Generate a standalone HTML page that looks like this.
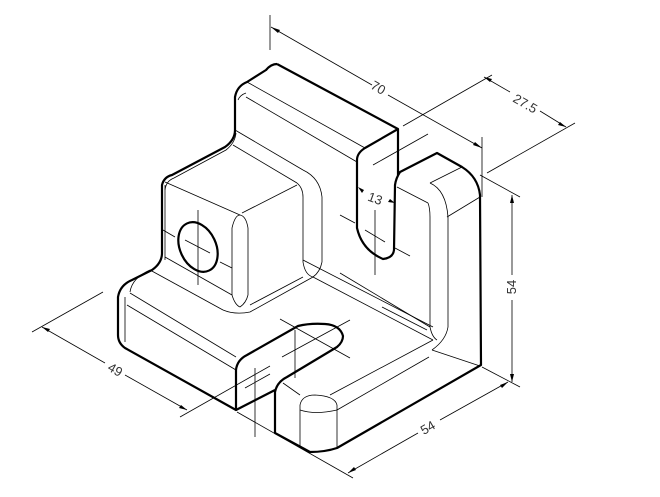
<!DOCTYPE html>
<html><head><meta charset="utf-8"><style>html,body{margin:0;padding:0;background:#fff}svg{display:block}</style></head>
<body>
<svg width="660" height="497" viewBox="0 0 660 497" xmlns="http://www.w3.org/2000/svg" font-family="Liberation Sans, sans-serif">
<g fill="none" stroke="#000" stroke-width="0.8">
<!-- dimensions -->
<line x1="270" y1="15" x2="270" y2="50"/>
<line x1="271" y1="27" x2="372" y2="85"/><line x1="388" y1="95" x2="482" y2="148"/>
<line x1="482" y1="137" x2="482" y2="197"/>
<line x1="403" y1="126" x2="492" y2="75"/>
<line x1="487" y1="173" x2="575" y2="123"/>
<line x1="484" y1="77" x2="510" y2="92"/><line x1="540" y1="111" x2="566" y2="127"/>
<line x1="373" y1="165" x2="428" y2="134"/>
<line x1="480" y1="175" x2="520" y2="197"/>
<line x1="512" y1="195" x2="512" y2="275"/><line x1="512" y1="300" x2="512" y2="382"/>
<line x1="482" y1="367" x2="520" y2="387"/>
<line x1="348" y1="473" x2="418" y2="433"/><line x1="440" y1="420" x2="508" y2="382"/>
<line x1="237" y1="412" x2="353" y2="478"/>
<line x1="32" y1="332" x2="103" y2="292"/>
<line x1="42" y1="327" x2="105" y2="363"/><line x1="125" y1="375" x2="187" y2="410"/>
<line x1="180" y1="417" x2="270" y2="366"/>
<!-- upright thin -->
<line x1="247" y1="82" x2="365" y2="148"/>
<line x1="246" y1="97" x2="357" y2="162"/>
<line x1="235" y1="130" x2="303" y2="170"/>
<line x1="233" y1="145" x2="297" y2="183"/>
<path d="M238 100 Q240 95 246 93"/>
<!-- cube -->
<path d="M165 190 Q166 181 174 178 L226 150 Q235 143 236 133"/>
<line x1="165" y1="182" x2="240" y2="215"/>
<line x1="242" y1="213" x2="297" y2="185"/>
<line x1="165" y1="185" x2="165" y2="260"/>
<line x1="232" y1="228" x2="232" y2="295"/><line x1="248" y1="228" x2="248" y2="295"/>
<path d="M232 228 Q235 215 240 215 Q246 216 248 228"/>
<line x1="303" y1="197" x2="303" y2="262"/><line x1="322" y1="197" x2="322" y2="262"/>
<path d="M303 170 Q320 178 322 197"/><path d="M297 183 Q303 188 303 197"/>
<path d="M303 262 Q305 275 313 277 M322 262 Q320 272 313 277"/>
<line x1="150" y1="270" x2="223" y2="310"/>
<line x1="165" y1="257" x2="232" y2="295"/>
<path d="M223 310 Q235 315 250 312 L313 277"/>
<path d="M232 295 Q235 305 240 307 M248 295 Q246 303 240 307"/>
<line x1="250" y1="305" x2="303" y2="277"/>
<!-- hole center -->
<line x1="198" y1="210" x2="198" y2="285"/><line x1="185" y1="240" x2="210" y2="253"/>
<line x1="163" y1="230" x2="175" y2="237"/><line x1="220" y1="262" x2="232" y2="268"/>
<!-- slot upright center -->
<line x1="375" y1="210" x2="375" y2="275"/><line x1="340" y1="215" x2="355" y2="223"/>
<line x1="365" y1="230" x2="385" y2="242"/><line x1="395" y1="248" x2="410" y2="256"/>
<!-- base top -->
<line x1="313" y1="277" x2="433" y2="340"/>
<line x1="303" y1="260" x2="433" y2="327"/>
<line x1="340" y1="273" x2="430" y2="327"/>
<line x1="382" y1="307" x2="427" y2="330"/>
<path d="M150 270 Q132 278 130 292"/>
<line x1="130" y1="293" x2="236" y2="357"/>
<line x1="127" y1="305" x2="236" y2="370"/>
<line x1="125" y1="297" x2="125" y2="342"/>
<!-- right block thin -->
<line x1="397" y1="187" x2="428" y2="203"/>
<line x1="430" y1="183" x2="462" y2="167"/>
<line x1="447" y1="217" x2="480" y2="197"/>
<line x1="430" y1="217" x2="430" y2="327"/><line x1="448" y1="217" x2="448" y2="327"/>
<path d="M428 203 Q430 208 430 217 M430 183 Q446 190 448 217"/>
<path d="M430 327 Q432 337 437 340 M448 327 Q446 340 432 350"/>
<line x1="432" y1="350" x2="480" y2="366"/>
<line x1="433" y1="340" x2="330" y2="395"/>
<line x1="429" y1="357" x2="337" y2="410"/>
<!-- front right base -->
<line x1="283" y1="383" x2="300" y2="395"/>
<line x1="300" y1="405" x2="300" y2="447"/><line x1="337" y1="405" x2="337" y2="447"/>
<path d="M300 405 Q302 395 315 395 Q335 396 337 405"/>
<path d="M300 410 Q315 415 337 410"/>
<!-- base slot center -->
<line x1="280" y1="319" x2="350" y2="358"/><line x1="282" y1="357" x2="350" y2="320"/>
<line x1="295" y1="330" x2="295" y2="378"/>
<line x1="255" y1="368" x2="255" y2="437"/>
<line x1="245" y1="388" x2="270" y2="374"/>
</g>
<g fill="#000">
<path d="M271 27 l9 3 -2 3z"/><path d="M482 148 l-9 -3 2 -3z"/>
<path d="M484 77 l8 2 -2 3z"/><path d="M566 127 l-8 -2 2 -3z"/>
<path d="M512 195 l-2 8 4 0z"/><path d="M512 382 l-2 -8 4 0z"/>
<path d="M348 473 l6 -6 2 3z"/><path d="M508 382 l-6 6 -2 -3z"/>
<path d="M42 327 l8 2 -2 3z"/><path d="M187 410 l-8 -2 2 -3z"/>
<path d="M358 187 l6 3 -2 3z"/><path d="M395 203 l-7 -1 2 -3z"/>
</g>
<g fill="none" stroke="#000" stroke-width="2.2" stroke-linejoin="round">
<path d="M277 64 L398 129 L398 175"/>
<path d="M398 129 L365 148 Q357 153 357 160 L357 228 Q362 250 383 259 Q393 258 394 250 L395 185 Q396 178 400 172 L437 153 L462 167 Q478 177 480 195 L481 365 L337 448 Q325 452 310 452 L275 433 L275 392 Q277 382 287 377 L337 347 Q343 342 343 336 Q340 325 325 324 Q310 323 298 326 L247 355 Q237 360 236 370 L236 410 L125 348 Q118 343 118 335 L118 297 Q120 285 132 280 L152 270 Q162 263 162 253 L162 185 Q164 177 172 175 L225 147 Q235 140 235 130 L235 97 Q237 86 247 82 L266 70 Q271 64 277 64"/>
<path d="M236 410 L275 390"/>
<ellipse cx="198" cy="247" rx="18" ry="26" transform="rotate(-25 198 247)"/>
</g>
<g fill="#333" font-size="13">
<text x="378" y="92" transform="rotate(30 378 88)" text-anchor="middle">70</text>
<text x="525" y="108" transform="rotate(30 525 104)" text-anchor="middle">27.5</text>
<text x="375" y="203" transform="rotate(20 375 199)" text-anchor="middle">13</text>
<text x="512" y="291" transform="rotate(-90 512 287)" text-anchor="middle">54</text>
<text x="428" y="432" transform="rotate(-30 428 428)" text-anchor="middle">54</text>
<text x="115" y="374" transform="rotate(30 115 370)" text-anchor="middle">49</text>
</g>
</svg>
</body></html>
